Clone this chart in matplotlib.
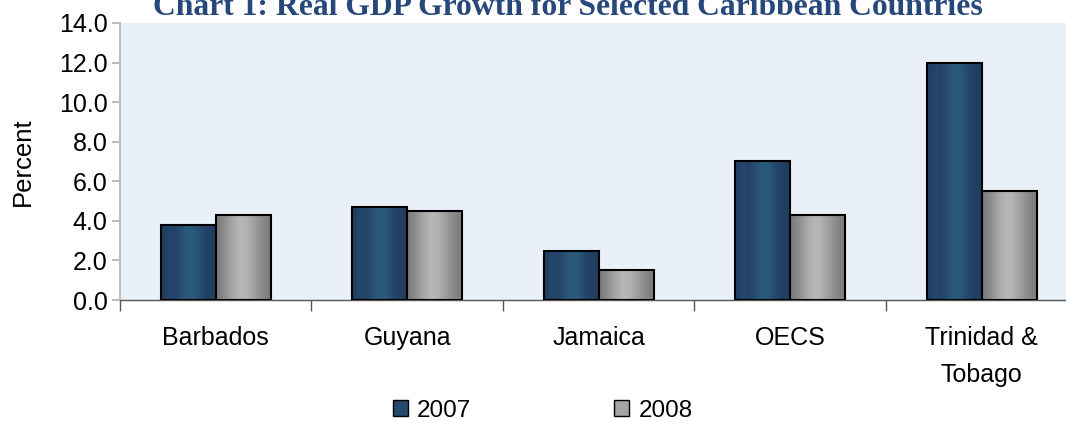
import numpy as np
import matplotlib
matplotlib.use("Agg")
import matplotlib.pyplot as plt
from matplotlib.patches import Patch
from matplotlib.colors import to_rgb

# Real GDP growth, percent
countries = ["Barbados", "Guyana", "Jamaica", "OECS", "Trinidad &\nTobago"]
growth_2007 = [3.8, 4.7, 2.5, 7.0, 12.0]
growth_2008 = [4.3, 4.5, 1.5, 4.3, 5.5]
years = ["2007", "2008"]

# stripe colours across each bar (gives the shaded cylinder look)
blue_stripes = ['#213f60', '#24466a', '#22426a', '#264d70', '#2a5878', '#2a5b7a',
                '#285676', '#24486c', '#223f69', '#213e5e']
grey_stripes = ['#7e7e7e', '#8c8c8c', '#9e9e9e', '#adadad', '#b7b7b7', '#b3b3b3',
                '#a6a6a6', '#979797', '#898989', '#7f7f7f']

plt.rcParams['font.family'] = ['Liberation Sans', 'DejaVu Sans']

fig = plt.figure(figsize=(10.66, 4.21), dpi=100)
ax = fig.add_axes([0.1126, 0.2874, 0.898, 0.658])
ax.set_facecolor('#eaf0f8')

x = np.arange(len(countries))
w = 0.287


def stripe_bars(xpos, vals, stripes):
    img = np.array([[to_rgb(c) for c in stripes]])
    bars = ax.bar(xpos, vals, w, facecolor='none', edgecolor='black',
                  linewidth=1.5, zorder=3)
    for b in bars:
        x0, y0 = b.get_x(), b.get_y()
        im = ax.imshow(img, extent=[x0, x0 + b.get_width(), y0, y0 + b.get_height()],
                       aspect='auto', interpolation='bilinear', zorder=2)
        im.set_clip_path(b)
    return bars


stripe_bars(x - w / 2, growth_2007, blue_stripes)
stripe_bars(x + w / 2, growth_2008, grey_stripes)

ax.set_xlim(-0.5, len(countries) - 0.5)
ax.set_ylim(0, 14)
yt = np.arange(0, 14.1, 2)
ax.set_yticks(yt)
ax.set_yticklabels([f"{v:.1f}" for v in yt], fontsize=18)
ax.set_ylabel("Percent", fontsize=18.5)
ax.yaxis.set_label_coords(-0.089, 0.5)

ax.set_xticks(x)
ax.set_xticklabels(countries, fontsize=18, linespacing=1.65)
ax.tick_params(axis='x', which='major', length=0, pad=19)
ax.set_xticks(np.arange(-0.5, len(countries)), minor=True)
ax.tick_params(axis='x', which='minor', length=8, color='#555555', width=1)
ax.tick_params(axis='y', length=6, color='#b0b0b0', width=1.2, pad=3)

for s in ['top', 'right']:
    ax.spines[s].set_visible(False)
ax.spines['left'].set_color('#c0c0c0')
ax.spines['left'].set_linewidth(1.5)
ax.spines['bottom'].set_color('#555555')
ax.spines['bottom'].set_linewidth(1)

fig.text(0.5327, 0.965, "Chart 1: Real GDP Growth for Selected Caribbean Countries",
         ha='center', va='baseline', fontsize=22.8, fontweight='bold',
         color='#27487a', family='Liberation Serif')

handles = [Patch(facecolor='#24496c', edgecolor='black', linewidth=1),
           Patch(facecolor='#a4a4a4', edgecolor='black', linewidth=1)]
fig.legend(handles, years, loc='center', bbox_to_anchor=(0.509, 0.024), ncol=2,
           frameon=False, fontsize=17.5, handlelength=0.62, handleheight=0.62,
           handletextpad=0.37, columnspacing=5.9, borderpad=0)

fig.savefig("out.png", dpi=100)
